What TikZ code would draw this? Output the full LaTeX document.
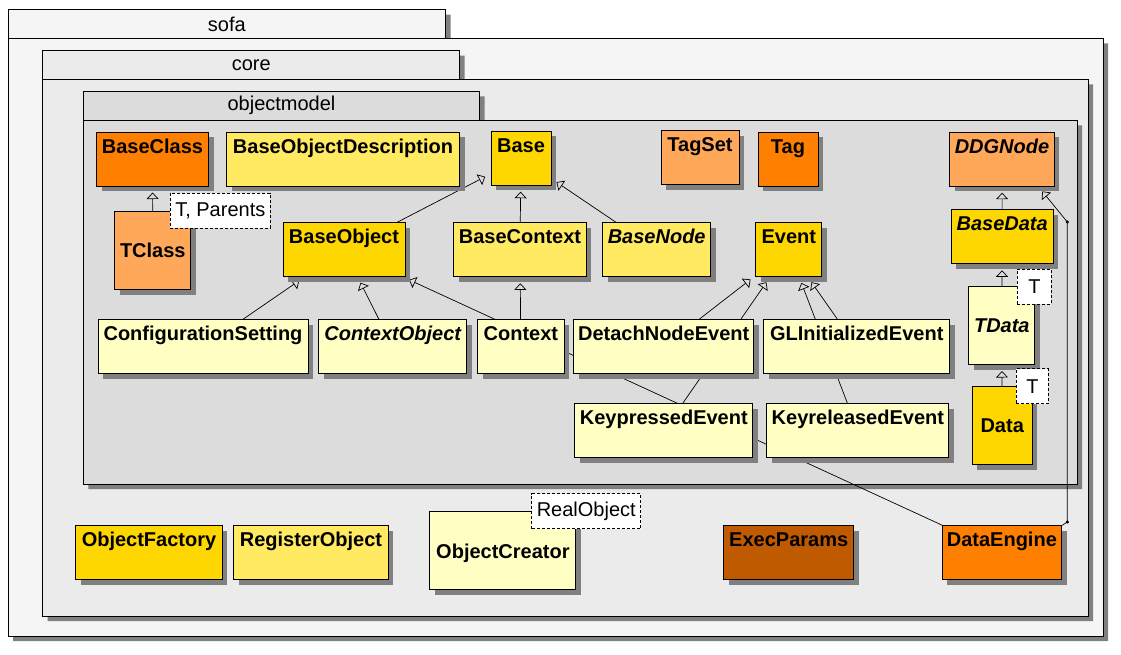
\documentclass[tikz,border=0pt]{standalone}
\usepackage{fontspec}
\setmainfont{Liberation Sans}
\usetikzlibrary{arrows.meta,shadows}
\definecolor{dorange}{HTML}{FF7F00}
\definecolor{lorange}{HTML}{FFA85A}
\definecolor{gold}{HTML}{FFD700}
\definecolor{lyellow}{HTML}{FFEA62}
\definecolor{pale}{HTML}{FFFFC4}
\definecolor{brown}{HTML}{BF5A00}
\definecolor{pkgA}{HTML}{F5F5F5}
\definecolor{pkgB}{HTML}{EBEBEB}
\definecolor{pkgC}{HTML}{DCDCDC}
\definecolor{shadowgray}{HTML}{808080}
\pgfdeclarelayer{pkg}
\pgfdeclarelayer{edges}
\pgfsetlayers{pkg,edges,main}
\tikzset{
  cls/.style={draw,fill=#1,line width=1pt,anchor=north west,font=\fontsize{20}{24}\selectfont\bfseries,inner xsep=4pt,inner ysep=3pt,text height=18pt,text depth=30pt,drop shadow={shadow xshift=5pt,shadow yshift=-5pt,fill=shadowgray,opacity=1}},
  tcls/.style={cls=#1,text height=14.5pt,text depth=0pt,minimum height=78pt},
  abs/.style={font=\fontsize{20}{24}\selectfont\bfseries\itshape},
  tpar/.style={draw,dash pattern=on 3pt off 2pt,fill=white,line width=0.8pt,anchor=north west,font=\fontsize{20}{24}\selectfont,minimum width=34pt,minimum height=35pt,inner xsep=5pt},
  pkgline/.style={draw,line width=1pt},
  pkglabel/.style={font=\fontsize{20}{24}\selectfont,inner sep=0pt},
  inh/.style={draw,line width=0.7pt,-{Triangle[open,length=6.5pt,width=12pt]},shorten >=6pt}
}
\begin{document}
\begin{tikzpicture}[x=1pt,y=-1pt]
\useasboundingbox (0,0) rectangle (1121,654);
\begin{pgfonlayer}{pkg}
\foreach \pk/\px/\pt/\ptx/\pb/\pr/\pbot/\pc in {sofa/8/9.7/445.7/38.3/1103/636/pkgA,core/42.7/50.7/459.7/79.3/1088/616/pkgB,objectmodel/83.3/91.3/479.7/120.3/1077/484/pkgC}{
\fill[shadowgray,xshift=5pt,yshift=-5pt](\px,\pt)--(\ptx,\pt)--(\ptx,\pb)--(\pr,\pb)--(\pr,\pbot)--(\px,\pbot)--cycle;
\draw[pkgline,fill=\pc](\px,\pt)rectangle(\ptx,\pb);
\draw[pkgline,fill=\pc](\px,\pb)rectangle(\pr,\pbot);
\node[pkglabel](\pk)at({(\px+\ptx)/2},{(\pt+\pb)/2}){\pk};}
\end{pgfonlayer}
\foreach \nm/\nx/\ny/\nw/\nc in {BaseClass/96/131.5/112/dorange,BaseObjectDescription/226/131.5/233/lyellow,Base/490.5/130.7/60/gold,TagSet/660.5/130.3/78/lorange,Tag/757.5/131.7/60/dorange,BaseObject/282.5/222.3/122/gold,BaseContext/453.2/222.3/132.5/lyellow,Event/755.3/222.3/66/gold,ConfigurationSetting/97.5/319.3/210/pale,Context/477.1/319.3/86.5/pale,DetachNodeEvent/573.2/319.3/180/pale,GLInitializedEvent/763.2/319.3/186/pale,KeypressedEvent/574.3/403.3/178/pale,KeyreleasedEvent/766.4/403.3/182/pale,ObjectFactory/75.3/525.3/146.4/gold,RegisterObject/233.3/525.3/154.4/lyellow,ExecParams/723.2/525.3/130/brown,DataEngine/941.6/525.3/119.5/dorange}{\node[cls=\nc,minimum width=\nw](\nm)at(\nx,\ny){\nm};}
\foreach \nm/\nx/\ny/\nw/\nc in {DDGNode/949.3/131.7/104.4/lorange,BaseData/950.7/209.3/102/gold,BaseNode/602.2/222.3/108/lyellow,ContextObject/318.2/319.3/148/pale}{\node[cls=\nc,abs,minimum width=\nw](\nm)at(\nx,\ny){\nm};}
\node[tcls=lorange,minimum width=76](TClass)at(114.3,211){TClass};
\node[tcls=pale,abs,minimum width=66](TData)at(968.3,286){TData};
\node[tcls=gold,minimum width=60](Data)at(971.7,386){Data};
\node[tcls=pale,minimum width=146](ObjectCreator)at(429.4,511.3){ObjectCreator};
\node[tpar](TClassT)at([xshift=-21.4pt,yshift=18pt]TClass.north east){T, Parents};
\node[tpar](TDataT)at([xshift=-18.3pt,yshift=17pt]TData.north east){T};
\node[tpar,minimum width=32pt](DataT)at([xshift=-16.7pt,yshift=17.7pt]Data.north east){T};
\node[tpar](ObjectCreatorT)at([xshift=-45pt,yshift=18pt]ObjectCreator.north east){RealObject};
\begin{pgfonlayer}{edges}
\foreach \a/\b in {TClass/BaseClass,BaseObject/Base,BaseContext/Base,BaseNode/Base,ConfigurationSetting/BaseObject,ContextObject/BaseObject,DataEngine/BaseObject,Context/BaseContext,DetachNodeEvent/Event,KeypressedEvent/Event,GLInitializedEvent/Event,KeyreleasedEvent/Event,BaseData/DDGNode,TData/BaseData,Data/TData}{\draw[inh](\a)--(\b);}
\coordinate(deA)at(1067.3,522);
\coordinate(deB)at(1067.3,222);
\draw[inh](DataEngine.north east)--(deA)--(deB)--(DDGNode.-37);
\fill(deA)circle(1.7pt);
\fill(deB)circle(1.7pt);
\end{pgfonlayer}
\end{tikzpicture}
\end{document}
